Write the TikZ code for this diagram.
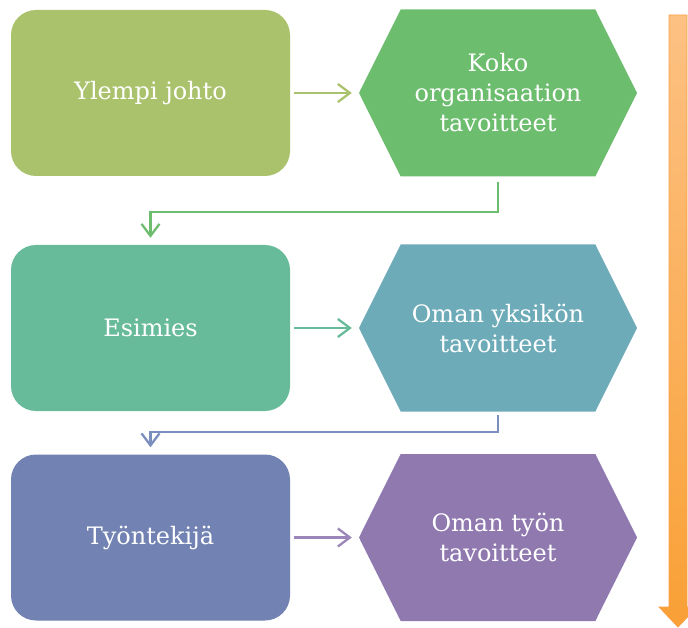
\documentclass[tikz,border=0pt]{standalone}
\usepackage{fontspec}
\setmainfont{DejaVu Serif}
\usetikzlibrary{shapes.symbols,arrows.meta}

\definecolor{topbox}{HTML}{ABC26C}
\definecolor{tophex}{HTML}{6DBD6F}
\definecolor{midbox}{HTML}{67BB9B}
\definecolor{midhex}{HTML}{6EABB8}
\definecolor{lowbox}{HTML}{7283B3}
\definecolor{lowhex}{HTML}{8F79AF}
\definecolor{bendtwo}{HTML}{7B8FBE}
\definecolor{arrowthree}{HTML}{9B86BA}
\definecolor{orangelight}{HTML}{FDC183}
\definecolor{orangedark}{HTML}{F9A036}
\definecolor{orangeedge}{HTML}{F8A045}

\tikzset{
  levelbox/.style={rounded corners=25pt, minimum width=279pt, minimum height=166pt,
    inner sep=0pt, text=white, align=center},
  goalhex/.style={signal, signal to=east and west, signal pointer angle=127,
    minimum width=278pt, minimum height=167pt, inner sep=0pt, text=white, align=center},
  flow/.style={line width=2.3pt, -{Straight Barb[length=12pt,width=18pt]}},
}

\begin{document}
\begin{tikzpicture}[x=1pt, y=-1pt, every node/.style={font=\fontsize{24}{30}\selectfont}]
    \useasboundingbox (0,0) rectangle (688,628);
    % -------------------------
    % Top row
    % -------------------------
    \node[levelbox, fill=topbox] (ylempi) at (150.5,93) {Ylempi johto};
    \node[goalhex, fill=tophex] (koko) at (498,93) {Koko\\organisaation\\tavoitteet};
    \draw[flow, topbox, shorten <=4pt, shorten >=7pt] (ylempi.east) -- (koko.west);

    % -------------------------
    % Middle row
    % -------------------------
    \node[levelbox, fill=midbox] (esimies) at (150.5,328) {Esimies};
    \node[goalhex, fill=midhex] (yksikko) at (498,328) {Oman yksikön\\tavoitteet};
    \draw[flow, midbox, shorten <=4pt, shorten >=7pt] (esimies.east) -- (yksikko.west);
    \draw[flow, tophex, shorten <=5pt, shorten >=7pt] (koko.south) -- ++(0,35) -| (esimies.north);

    % -------------------------
    % Bottom row
    % -------------------------
    \node[levelbox, fill=lowbox] (tyontekija) at (150.5,537.5) {Työntekijä};
    \node[goalhex, fill=lowhex] (tyo) at (498,537.5) {Oman työn\\tavoitteet};
    \draw[flow, arrowthree, shorten <=4pt, shorten >=7pt] (tyontekija.east) -- (tyo.west);
    \draw[flow, bendtwo, shorten <=3pt, shorten >=7pt] (yksikko.south) -- ++(0,20) -| (tyontekija.north);

    % Orange arrow on the right
    \shade[top color=orangelight, bottom color=orangedark, draw=orangeedge, line width=0.8pt]
      (669,15) -- (687,15) -- (687,607) -- (697,607) -- (678,627) -- (659,607) -- (669,607) -- cycle;
\end{tikzpicture}
\end{document}
